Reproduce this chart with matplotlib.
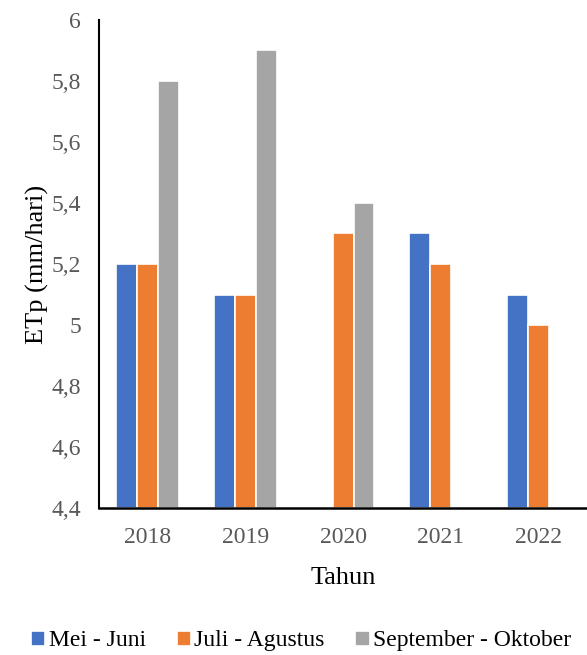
import numpy as np
import matplotlib
matplotlib.use("Agg")
import matplotlib.pyplot as plt
from matplotlib.ticker import FuncFormatter

plt.rcParams.update({"font.family": "Liberation Serif", "font.size": 17})

tahun = ["2018", "2019", "2020", "2021", "2022"]
mei_juni = [5.2, 5.1, np.nan, 5.3, 5.1]
juli_agustus = [5.2, 5.1, 5.3, 5.2, 5.0]
sep_okt = [5.8, 5.9, 5.4, np.nan, np.nan]
series = [("Mei - Juni", mei_juni, "#4472C4"),
          ("Juli - Agustus", juli_agustus, "#ED7D31"),
          ("September - Oktober", sep_okt, "#A5A5A5")]

fig = plt.figure(figsize=(5.87, 6.55), dpi=100)
ax = fig.add_axes([0.1687, 0.2244, 0.8313, 0.7451])

x = np.arange(len(tahun))
w = 0.215
base = 4.4
for i, (lab, vals, col) in enumerate(series):
    v = np.array(vals) - base
    ax.bar(x + (i - 1) * w, v, w, bottom=base, color=col, edgecolor="white",
           linewidth=1.2, label=lab)

ax.set_xlim(-0.5, 4.5)
ax.set_ylim(4.4, 6.0)
ax.set_yticks(np.arange(4.4, 6.01, 0.2))
ax.yaxis.set_major_formatter(FuncFormatter(lambda v, p: f"{v:.1f}".replace(".", ",").replace(",0", "")))
ax.set_xticks(x, tahun)
ax.tick_params(length=0, colors="#595959", labelsize=17)
ax.tick_params(axis="x", pad=14)
ax.tick_params(axis="y", pad=13)
for s in ["top", "right"]:
    ax.spines[s].set_visible(False)
ax.spines["left"].set_linewidth(1.5)
ax.spines["bottom"].set_linewidth(1.8)

ax.set_ylabel("ETp (mm/hari)", fontsize=19, labelpad=2)
ax.set_xlabel("Tahun", fontsize=19, labelpad=13)

fig.legend(loc="lower center", bbox_to_anchor=(0.513, -0.027), ncol=3, frameon=False,
           fontsize=17, handlelength=0.6, handleheight=0.6, handletextpad=0.15,
           columnspacing=1.3)

fig.savefig("out.png", dpi=100)
